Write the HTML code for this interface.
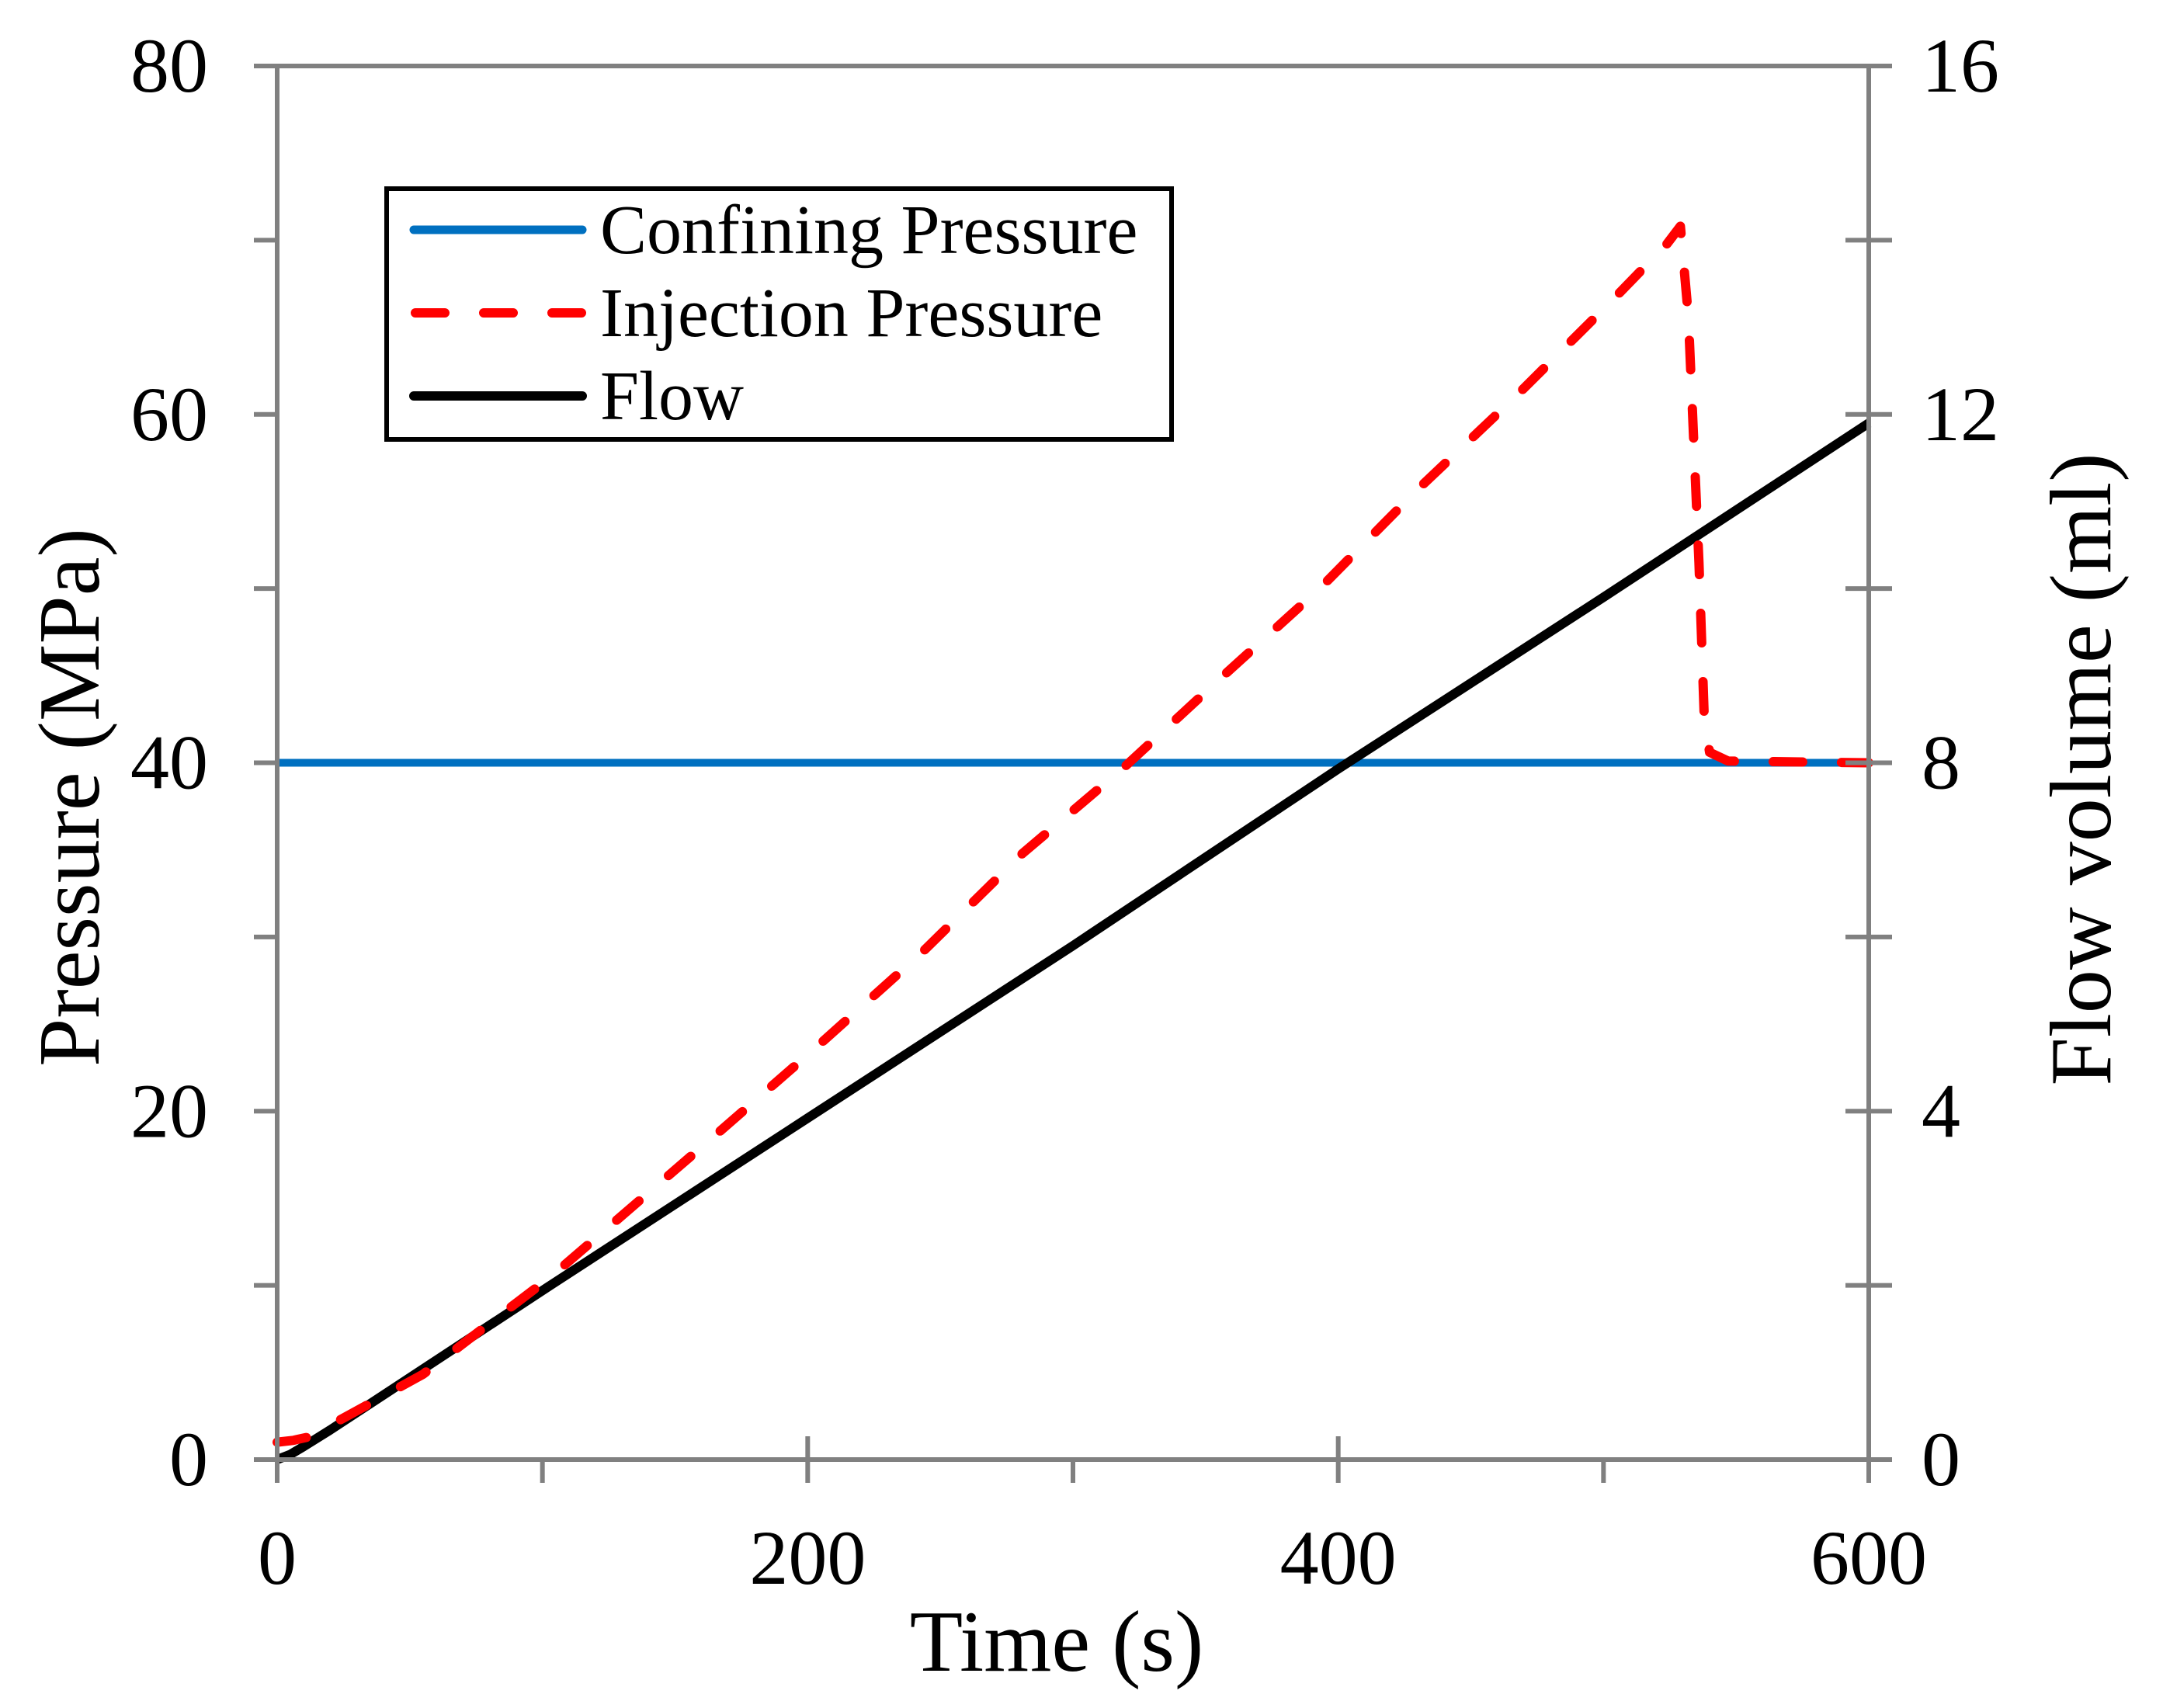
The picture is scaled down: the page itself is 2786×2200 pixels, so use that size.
<!DOCTYPE html>
<html><head><meta charset="utf-8"><style>
html,body{margin:0;padding:0;background:#fff;}
svg{display:block;}
text{font-family:"Liberation Serif","DejaVu Serif",serif;fill:#000;}
</style></head><body>
<svg id="chart" xmlns="http://www.w3.org/2000/svg" width="2786" height="2200" viewBox="0 0 2786 2200">
<rect width="2786" height="2200" fill="#fff"/>
<g id="grid"></g>
<g id="series"></g>
<g id="axes"></g>
<g id="labels"></g>
<g>
  <rect x="498" y="243" width="1011" height="323" fill="#fff" stroke="#000" stroke-width="6"/>
  <line x1="533" y1="296" x2="750" y2="296" stroke="#0070C0" stroke-width="11" stroke-linecap="round"/>
  <text x="773" y="326" font-size="90">Confining Pressure</text>
  <line x1="535" y1="403" x2="750" y2="403" stroke="#FF0000" stroke-width="12" stroke-linecap="round" stroke-dasharray="38 50"/>
  <text x="773" y="433" font-size="90">Injection Pressure</text>
  <line x1="533" y1="510" x2="750" y2="510" stroke="#000" stroke-width="12" stroke-linecap="round"/>
  <text x="773" y="540" font-size="90">Flow</text>
</g>
</svg>
<script>
const timeTicks = [0, 200, 400, 600];
const timeMinorTicks = [100, 300, 500];
const pressureTicks = [0, 20, 40, 60, 80];
const pressureMinorTicks = [10, 30, 50, 70];
const flowTicks = [0, 4, 8, 12, 16];
const confiningTime = [0, 600];
const confiningPressure = [40, 40];
const injectionTime = [0, 6, 12, 30, 55, 104, 165, 202, 243, 281, 319, 356, 393, 430, 466, 503, 524, 529, 532, 536, 538, 540, 547, 600];
const injectionPressure = [1, 1.1, 1.3, 2.8, 4.9, 10.6, 18.6, 23.5, 29.1, 34.8, 39.7, 44.9, 50.0, 55.7, 60.9, 66.5, 69.8, 70.8, 65.6, 51.5, 42.5, 40.6, 40.1, 40];
const flowTime = [0, 5, 10, 20, 103, 200, 300, 400, 500, 600];
const flowVolume = [0, 0.06, 0.15, 0.34, 2.0, 3.92, 5.9, 7.93, 9.9, 11.9];

const NS = 'http://www.w3.org/2000/svg';
const L = 357, R = 2407, T = 85, B = 1880;
const xS = t => L + (t - 0) / 600 * (R - L);
const yP = p => B - p / 80 * (B - T);
const yF = f => B - f / 16 * (B - T);

function mk(tag, attrs, parent) {
  const e = document.createElementNS(NS, tag);
  for (const k in attrs) e.setAttribute(k, attrs[k]);
  parent.appendChild(e);
  return e;
}
const axes = document.getElementById('axes');
const labels = document.getElementById('labels');
const series = document.getElementById('series');
const gray = '#808080';
const AW = 6;

let a;
a = mk('line', {x1: L, y1: T, x2: L, y2: B + 3, stroke: gray, 'stroke-width': AW}, axes);


a = mk('line', {x1: R, y1: T, x2: R, y2: B + 3, stroke: gray, 'stroke-width': AW}, axes);


a = mk('line', {x1: L - 30, y1: B, x2: R + 3, y2: B, stroke: gray, 'stroke-width': AW}, axes);


a = mk('line', {x1: L - 30, y1: T, x2: R + 30, y2: T, stroke: gray, 'stroke-width': AW}, axes);



pressureTicks.concat(pressureMinorTicks).forEach(p => {
  const t = mk('line', {x1: L - 30, y1: yP(p), x2: L, y2: yP(p), stroke: gray, 'stroke-width': AW}, axes);
  
  
});
pressureTicks.forEach(p => {
  const t = mk('text', {x: 268, y: yP(p) + 33, 'font-size': 100, 'text-anchor': 'end'}, labels);
  t.textContent = p;
  
  
});
for (let i = 0; i <= 8; i++) {
  const y = T + i * (B - T) / 8;
  const t = mk('line', {x1: R - 30, y1: y, x2: R + 30, y2: y, stroke: gray, 'stroke-width': AW}, axes);
  
  
}
flowTicks.forEach(f => {
  const t = mk('text', {x: 2475, y: yF(f) + 33, 'font-size': 100, 'text-anchor': 'start'}, labels);
  t.textContent = f;
  
  
});
timeTicks.forEach(v => {
  const t = mk('line', {x1: xS(v), y1: B - 30, x2: xS(v), y2: B + 30, stroke: gray, 'stroke-width': AW}, axes);
  
  
  const tl = mk('text', {x: xS(v), y: 2040, 'font-size': 100, 'text-anchor': 'middle'}, labels);
  tl.textContent = v;
  
  
});
timeMinorTicks.forEach(v => {
  const t = mk('line', {x1: xS(v), y1: B, x2: xS(v), y2: B + 30, stroke: gray, 'stroke-width': AW}, axes);
  
  
});

let tt = mk('text', {x: 1361, y: 2152, 'font-size': 112, 'text-anchor': 'middle'}, labels);
tt.textContent = 'Time (s)';


tt = mk('text', {x: 0, y: 0, 'font-size': 112, 'text-anchor': 'middle', transform: 'translate(127,1027) rotate(-90)'}, labels);
tt.textContent = 'Pressure (MPa)';


tt = mk('text', {x: 0, y: 0, 'font-size': 112, 'text-anchor': 'middle', transform: 'translate(2718,991) rotate(-90)'}, labels);
tt.textContent = 'Flow volume (ml)';



function pts(xs, ys, yf) { return xs.map((x, i) => xS(x).toFixed(1) + ',' + yf(ys[i]).toFixed(1)).join(' '); }
let s = mk('polyline', {points: pts(confiningTime, confiningPressure, yP), fill: 'none', stroke: '#0070C0', 'stroke-width': 10}, series);


s = mk('polyline', {points: pts(flowTime, flowVolume, yF), fill: 'none', stroke: '#000', 'stroke-width': 12, 'stroke-linejoin': 'round'}, series);


s = mk('polyline', {points: pts(injectionTime, injectionPressure, yP), fill: 'none', stroke: '#FF0000', 'stroke-width': 12, 'stroke-dasharray': '38 50', 'stroke-linecap': 'round', 'stroke-linejoin': 'round'}, series);


</script>
</body></html>
